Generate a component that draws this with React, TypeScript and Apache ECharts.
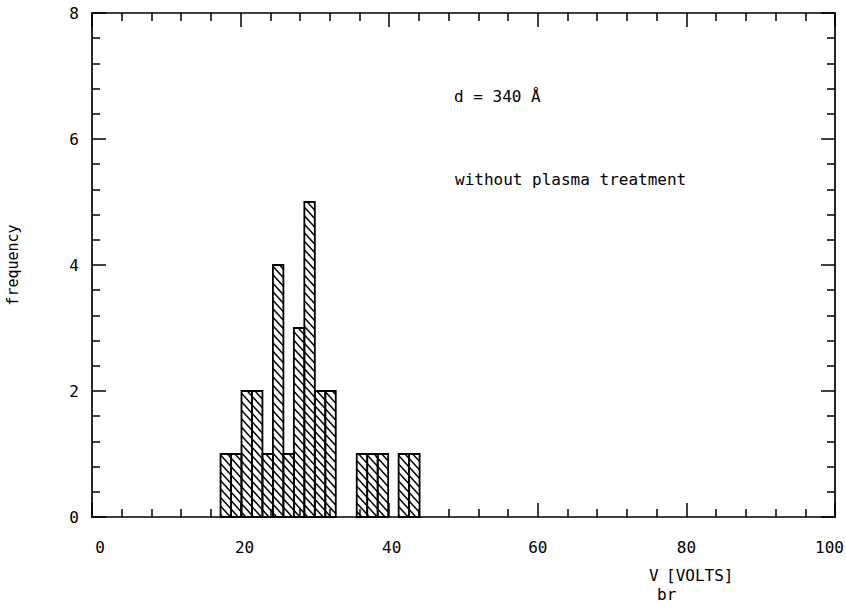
import React, { useEffect, useRef } from "react";
import * as echarts from "echarts";

// Histogram bins (left edges in volts), common bin width, and counts
const binLefts = [17.3, 18.71, 20.12, 21.53, 22.94, 24.35, 25.76, 27.17, 28.58, 29.99, 31.4, 35.63, 37.04, 38.45, 41.27, 42.68];
const binWidth = 1.41;
const counts = [1, 1, 2, 2, 1, 4, 1, 3, 5, 2, 2, 1, 1, 1, 1, 1];

const xMin = 0, xMax = 100, xStep = 20;
const yMin = 0, yMax = 8, yStep = 2;

const annotation1 = "d = 340 Å";
const annotation2 = "without plasma treatment";
const yTitle = "frequency";
const xTitleMain = "V";
const xTitleSub = "br";
const xTitleUnit = "[VOLTS]";

const FONT = "DejaVu Sans Mono";

export default function App() {
  const ref = useRef<HTMLDivElement>(null);
  useEffect(() => {
    document.body.style.margin = "0";
    const chart = echarts.init(ref.current!, null, { renderer: "svg" });
    const data = binLefts.map((l, i) => [l, l + binWidth, counts[i]]);

    const axisCommon = {
      axisLine: { show: true, onZero: false, lineStyle: { color: "#000", width: 1.7 } },
      splitLine: { show: false },
    };
    const ticks = {
      axisTick: { show: true, inside: true, length: 14, lineStyle: { color: "#000", width: 1.5 } },
      minorTick: { show: true, splitNumber: 5, length: 8, lineStyle: { color: "#000", width: 1.5 } },
      minorSplitLine: { show: false },
    };
    const lab = { fontFamily: FONT, fontSize: 16, color: "#000" };

    chart.setOption({
      animation: false,
      backgroundColor: "#fff",
      grid: { left: 92, right: 11, top: 13, bottom: 93, containLabel: false, outerBoundsMode: "none" },
      xAxis: [
        {
          type: "value", min: xMin, max: xMax, interval: xStep, position: "bottom",
          ...axisCommon, ...ticks,
          axisLabel: {
            ...lab, margin: 22,
            formatter: (v: number) => {
              if (v === 0) return `{a|${v}}`;
              if (v === 20) return `{b|${v}}`;
              if (v === 40) return `{c|${v}}`;
              if (v === 100) return `{d|${v}}`;
              return `{n|${v}}`;
            },
            rich: {
              a: { ...lab, padding: [0, 0, 0, 16] },
              b: { ...lab, padding: [0, 0, 0, 8] },
              c: { ...lab, padding: [0, 0, 0, 5] },
              d: { ...lab, padding: [0, 11, 0, 0] },
              n: { ...lab },
            },
          },
        },
        {
          type: "value", min: xMin, max: xMax, interval: xStep, position: "top",
          ...axisCommon, ...ticks,
          axisLabel: { show: false },
        },
      ],
      yAxis: [
        {
          type: "value", min: yMin, max: yMax, interval: yStep, position: "left",
          ...axisCommon, ...ticks,
          axisLabel: { ...lab, margin: 13 },
        },
        {
          type: "value", min: yMin, max: yMax, interval: yStep, position: "right",
          ...axisCommon, ...ticks,
          axisLabel: { show: false },
        },
      ],
      series: [
        {
          type: "custom",
          xAxisIndex: 0,
          yAxisIndex: 0,
          encode: { x: [0, 1], y: 2 },
          data,
          renderItem: (params: any, api: any) => {
            const p0 = api.coord([api.value(0), api.value(2)]);
            const p1 = api.coord([api.value(1), 0]);
            const left = p0[0], top = p0[1], right = p1[0], bottom = p1[1];
            const children: any[] = [];
            const s = 1.1, sp = 8.5;
            const kMin = Math.floor((top - s * right) / sp) - 1;
            const kMax = Math.ceil((bottom - s * left) / sp) + 1;
            for (let k = kMin; k <= kMax; k++) {
              const c0 = k * sp;
              const xa = Math.max(left, (top - c0) / s);
              const xb = Math.min(right, (bottom - c0) / s);
              if (xb - xa > 0.5) {
                children.push({
                  type: "line",
                  shape: { x1: xa, y1: s * xa + c0, x2: xb, y2: s * xb + c0 },
                  style: { stroke: "#000", lineWidth: 1.5 },
                });
              }
            }
            children.push({
              type: "rect",
              shape: { x: left, y: top, width: right - left, height: bottom - top },
              style: { fill: "none", stroke: "#000", lineWidth: 1.8 },
            });
            return { type: "group", children };
          },
        },
      ],
      graphic: [
        { type: "text", left: 454, top: 88, style: { text: annotation1, fontFamily: FONT, fontSize: 16, fill: "#000" } },
        { type: "text", left: 455, top: 171, style: { text: annotation2, fontFamily: FONT, fontSize: 16, fill: "#000" } },
        {
          type: "text", x: 13, y: 265, rotation: Math.PI / 2,
          style: { text: yTitle, fontFamily: FONT, fontSize: 15, fill: "#000", align: "center", verticalAlign: "middle" },
        },
        { type: "text", left: 649, top: 567, style: { text: xTitleMain, fontFamily: FONT, fontSize: 16, fill: "#000" } },
        { type: "text", left: 657, top: 586, style: { text: xTitleSub, fontFamily: FONT, fontSize: 16, fill: "#000" } },
        { type: "text", left: 666, top: 567, style: { text: xTitleUnit, fontFamily: FONT, fontSize: 16, fill: "#000" } },
      ],
    });
    return () => chart.dispose();
  }, []);
  return <div ref={ref} style={{ width: 846, height: 610 }} />;
}
